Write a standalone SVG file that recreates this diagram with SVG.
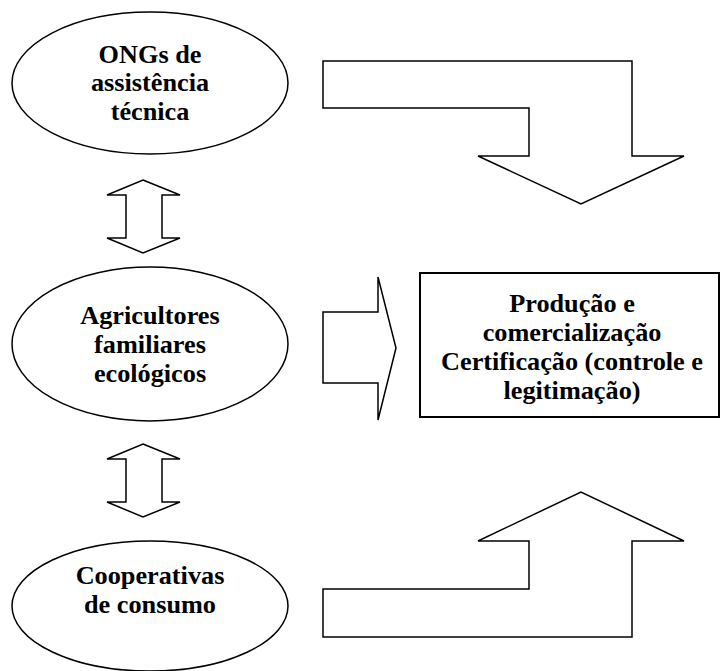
<svg xmlns="http://www.w3.org/2000/svg" width="721" height="671" viewBox="0 0 721 671">
  <style>
    .shape { fill: #ffffff; stroke: #000000; stroke-width: 1.5; stroke-linejoin: miter; }
    .box { fill: #ffffff; stroke: #000000; stroke-width: 2; }
    .label { font-family: "Liberation Serif", "Times New Roman", serif; font-weight: bold; font-size: 25px; fill: #000000; text-anchor: middle; }
  </style>
  <defs>
    <path id="dbl" d="M143,180 L180,195 L162,195 L162,238 L180,238 L143,253 L107,238 L126,238 L126,195 L107,195 Z"/>
  </defs>
  <rect x="0" y="0" width="721" height="671" fill="#ffffff"/>

  <g id="connectors">
    <path id="arrow-ongs-producao" class="shape" d="M323,61 L632,61 L632,156 L684,156 L581,204 L478,156 L529,156 L529,108 L323,108 Z"/>
    <path id="arrow-agric-producao" class="shape" d="M323,312 L378,312 L378,277 L396,348 L378,420 L378,383 L323,383 Z"/>
    <path id="arrow-coop-producao" class="shape" d="M323,637 L632,637 L632,541 L684,541 L581,492 L478,541 L529,541 L529,589 L323,589 Z"/>
    <use id="arrow-ongs-agric" href="#dbl" class="shape"/>
    <use id="arrow-agric-coop" href="#dbl" class="shape" transform="translate(0 264)"/>
  </g>

  <g id="ongs">
    <ellipse class="shape" cx="150" cy="83" rx="138" ry="71"/>
    <g transform="translate(150 0) scale(1.05 1)">
      <text class="label" x="0" y="63">ONGs de</text>
      <text class="label" x="0" y="91.5">assistência</text>
      <text class="label" x="0" y="120">técnica</text>
    </g>
  </g>

  <g id="agricultores">
    <ellipse class="shape" cx="150" cy="344" rx="138" ry="77"/>
    <g transform="translate(150 0) scale(1.05 1)">
      <text class="label" x="0" y="324">Agricultores</text>
      <text class="label" x="0" y="353">familiares</text>
      <text class="label" x="0" y="382">ecológicos</text>
    </g>
  </g>

  <g id="cooperativas">
    <ellipse class="shape" cx="150" cy="606" rx="138" ry="65"/>
    <g transform="translate(150 0) scale(1.05 1)">
      <text class="label" x="0" y="584">Cooperativas</text>
      <text class="label" x="0" y="613">de consumo</text>
    </g>
  </g>

  <g id="producao">
    <rect class="box" x="420" y="273" width="299" height="144"/>
    <g transform="translate(572 0) scale(1.05 1)">
      <text class="label" x="0" y="312">Produção e</text>
      <text class="label" x="0" y="341">comercialização</text>
      <text class="label" x="0" y="370">Certificação (controle e</text>
      <text class="label" x="0" y="399">legitimação)</text>
    </g>
  </g>
</svg>
